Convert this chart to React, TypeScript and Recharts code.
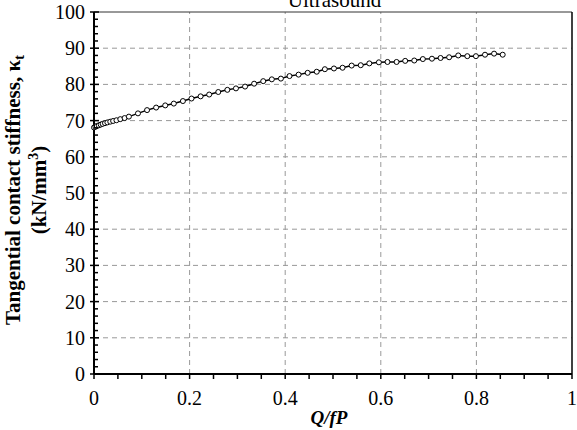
import React from 'react'
import { LineChart, Line, XAxis, YAxis, ReferenceLine } from 'recharts'

// Q/fP values
const xValues = [
  0, 0.003, 0.006, 0.01, 0.014, 0.018, 0.023, 0.028, 0.034, 0.04,
  0.047, 0.055, 0.064, 0.073, 0.092, 0.111, 0.13, 0.149, 0.167, 0.186,
  0.204, 0.223, 0.241, 0.26, 0.279, 0.297, 0.316, 0.335, 0.354, 0.372,
  0.391, 0.409, 0.428, 0.447, 0.466, 0.483, 0.502, 0.52, 0.539, 0.558,
  0.576, 0.596, 0.614, 0.633, 0.651, 0.67, 0.688, 0.707, 0.725, 0.743,
  0.762, 0.781, 0.799, 0.818, 0.837, 0.855
]

// tangential contact stiffness (kN/mm3)
const stiffness = [
  68.1, 68.3, 68.5, 68.7, 68.9, 69.1, 69.3, 69.5, 69.7, 69.9,
  70.1, 70.4, 70.7, 71.1, 72.0, 72.9, 73.6, 74.2, 74.7, 75.4,
  76.1, 76.7, 77.2, 77.9, 78.5, 78.9, 79.4, 80.2, 80.9, 81.4,
  81.6, 82.3, 82.7, 83.2, 83.5, 84.2, 84.4, 84.6, 85.2, 85.3,
  85.8, 86.1, 86.2, 86.2, 86.5, 86.6, 87.0, 87.1, 87.3, 87.5,
  88.0, 87.8, 87.8, 88.2, 88.5, 88.2
]

const xTicks = [
  0, 0.05, 0.1, 0.15, 0.2, 0.25, 0.3, 0.35, 0.4, 0.45, 0.5,
  0.55, 0.6, 0.65, 0.7, 0.75, 0.8, 0.85, 0.9, 0.95, 1
]
const xMajor = [0, 0.2, 0.4, 0.6, 0.8, 1]
const yTicks = [
  0, 2, 4, 6, 8, 10, 12, 14, 16, 18, 20, 22, 24, 26, 28, 30, 32, 34, 36, 38, 40,
  42, 44, 46, 48, 50, 52, 54, 56, 58, 60, 62, 64, 66, 68, 70, 72, 74, 76, 78, 80,
  82, 84, 86, 88, 90, 92, 94, 96, 98, 100
]
const yMajor = [0, 10, 20, 30, 40, 50, 60, 70, 80, 90, 100]

const gridY = [10, 20, 30, 40, 50, 60, 70, 80, 90]
const gridX = [0.2, 0.4, 0.6, 0.8]

const data = xValues.map((x, i) => ({ x, k: stiffness[i] }))

const FONT = '"Liberation Serif", "Times New Roman", serif'

const isMajor = (v: number, list: number[]) => list.some((m) => Math.abs(m - v) < 1e-6)

const XTick = (props: any) => {
  const { x, y, payload } = props
  const v = payload.value
  const major = isMajor(v, xMajor)
  return (
    <g>
      <line x1={x} x2={x} y1={y} y2={y + 5} stroke='#000' strokeWidth={1.5} />
      {major && (
        <text x={x} y={y + 31} textAnchor='middle' fontFamily={FONT} fontSize={20} fill='#000'>
          {String(v)}
        </text>
      )}
    </g>
  )
}

const YTick = (props: any) => {
  const { x, y, payload } = props
  const v = payload.value
  const major = isMajor(v, yMajor)
  return (
    <g>
      {major ? (
        <line x1={x - 4} x2={x + 5} y1={y} y2={y} stroke='#000' strokeWidth={1.5} />
      ) : (
        <line x1={x} x2={x + 4} y1={y} y2={y} stroke='#000' strokeWidth={1.5} />
      )}
      {major && (
        <text x={x - 9} y={y} dy='0.35em' textAnchor='end' fontFamily={FONT} fontSize={20} fill='#000'>
          {String(v)}
        </text>
      )}
    </g>
  )
}

const YTitle = (props: any) => {
  const vb = props.viewBox || { x: 0, y: 12, width: 94, height: 362 }
  const cy = vb.y + vb.height / 2 - 3
  const x1 = vb.x + 20
  const x2 = vb.x + 46
  return (
    <g fontFamily={FONT} fontWeight='bold' fontSize={21} fill='#000'>
      <text x={x1} y={cy} textAnchor='middle' transform={`rotate(-90 ${x1} ${cy})`}>
        Tangential contact stiffness, κ<tspan fontSize={15} dy={4}>t</tspan>
      </text>
      <text x={x2} y={cy} textAnchor='middle' transform={`rotate(-90 ${x2} ${cy})`}>
        (kN/mm<tspan fontSize={14} dy={-8}>3</tspan>
        <tspan dy={8}>)</tspan>
      </text>
    </g>
  )
}

const XTitle = (props: any) => {
  const vb = props.viewBox || { x: 94, y: 374, width: 478, height: 56 }
  return (
    <text
      x={vb.x + vb.width / 2 - 4}
      y={vb.y + 50}
      textAnchor='middle'
      fontFamily={FONT}
      fontWeight='bold'
      fontStyle='italic'
      fontSize={19}
      fill='#000'
    >
      Q/fP
    </text>
  )
}

export default function App() {
  return (
    <div style={{ position: 'absolute', left: 0, top: 0, width: 577, height: 430, background: '#fff' }}>
      <div
        style={{
          position: 'absolute',
          left: 0,
          width: 577,
          top: -10,
          textAlign: 'center',
          paddingLeft: 92,
          boxSizing: 'border-box',
          fontFamily: FONT,
          fontSize: 21,
          lineHeight: '21px',
          color: '#000'
        }}
      >
        Ultrasound
      </div>
      <LineChart width={577} height={430} data={data} margin={{ top: 12, right: 5, bottom: 0, left: 0 }}>
        {gridY.map((v) => (
          <ReferenceLine key={'gy' + v} y={v} stroke='#999' strokeDasharray='5 4' strokeWidth={1} />
        ))}
        {gridX.map((v) => (
          <ReferenceLine key={'gx' + v} x={v} stroke='#999' strokeDasharray='5 4' strokeWidth={1} />
        ))}
        <ReferenceLine y={100} stroke='#333' strokeWidth={1} />
        <ReferenceLine x={1} stroke='#000' strokeWidth={1.5} />
        <XAxis
          type='number'
          dataKey='x'
          domain={[0, 1]}
          ticks={xTicks}
          interval={0}
          tickSize={0}
          tickMargin={0}
          tickLine={false}
          height={56}
          axisLine={{ stroke: '#000', strokeWidth: 2 }}
          tick={<XTick />}
          label={{ content: <XTitle /> }}
        />
        <YAxis
          type='number'
          domain={[0, 100]}
          ticks={yTicks}
          interval={0}
          tickSize={0}
          tickMargin={0}
          tickLine={false}
          width={94}
          axisLine={{ stroke: '#000', strokeWidth: 2 }}
          tick={<YTick />}
          label={{ content: <YTitle /> }}
        />
        <Line
          type='linear'
          dataKey='k'
          stroke='#000'
          strokeWidth={1.5}
          dot={{ r: 2.5, fill: '#fff', stroke: '#000', strokeWidth: 1 }}
          isAnimationActive={false}
        />
      </LineChart>
    </div>
  )
}
